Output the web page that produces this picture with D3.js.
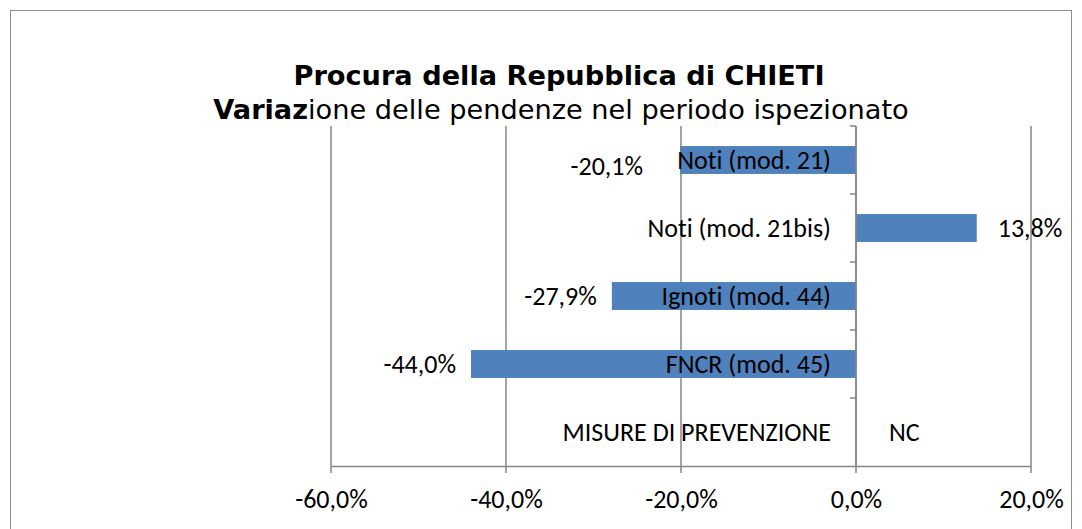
<!DOCTYPE html>
<html>
<head>
<meta charset="utf-8">
<script src="https://cdn.jsdelivr.net/npm/d3@7"></script>
<style>
  body { margin: 0; background: #fff; }
  svg { display: block; }
  text { font-variant-ligatures: none; font-feature-settings: "liga" 0, "clig" 0; }
</style>
</head>
<body>
<svg id="chart" width="1082" height="529"></svg>
<script>
// Variazione delle pendenze — Procura della Repubblica di CHIETI

const categories = ['Noti (mod. 21)', 'Noti (mod. 21bis)', 'Ignoti (mod. 44)', 'FNCR (mod. 45)', 'MISURE DI PREVENZIONE'];
const values     = [-20.1, 13.8, -27.9, -44.0, null];   // null = NC
const valueLabels = ['-20,1%', '13,8%', '-27,9%', '-44,0%', 'NC'];
const xTicks      = [-60, -40, -20, 0, 20];
const xTickLabels = ['-60,0%', '-40,0%', '-20,0%', '0,0%', '20,0%'];

const W = 1082, H = 529;
const M = { left: 331, right: 1031, top: 126, bottom: 466 };
const LABEL_FONT = "Carlito, 'Liberation Sans Narrow', 'Open Sans', sans-serif";
const TITLE_FONT = "'DejaVu Sans', Verdana, sans-serif";
const LABEL_SIZE = 26;
const GRID = '#868686';
const BAR  = '#4f81bd';

const svg = d3.select('#chart');

// ── Frame ──────────────────────────────────────────────────────────────────
svg.append('rect')
  .attr('x', 10.5).attr('y', 10.5)
  .attr('width', W - 21).attr('height', H)
  .attr('fill', '#fff').attr('stroke', '#8c8c8c').attr('stroke-width', 1);

// ── Title ──────────────────────────────────────────────────────────────────
const title = svg.append('text')
  .attr('font-family', TITLE_FONT).attr('font-size', 27.2)
  .attr('text-anchor', 'middle').attr('fill', '#000');
title.append('tspan').attr('x', 559).attr('y', 85).attr('font-weight', 'bold')
  .text('Procura della Repubblica di CHIETI');
const sub = title.append('tspan').attr('x', 561).attr('y', 119);
sub.append('tspan').attr('font-weight', 'bold').text('Variaz');
sub.append('tspan').text('ione delle pendenze nel periodo ispezionato');

// ── Scales ─────────────────────────────────────────────────────────────────
const x = d3.scaleLinear().domain([-60, 20]).range([M.left, M.right]);
const band = d3.scaleBand().domain(categories).range([M.top, M.bottom]);
const y = d3.scaleBand().domain(categories).range([M.top, M.bottom]).paddingInner(0.59).paddingOuter(0.295);

const g = svg.append('g');

// gridlines + ticks below the axis
g.selectAll('line.grid')
  .data(xTicks)
  .enter().append('line')
  .attr('class', 'grid')
  .attr('x1', d => x(d)).attr('x2', d => x(d))
  .attr('y1', M.top).attr('y2', M.bottom + 7)
  .attr('stroke', GRID).attr('stroke-width', 1.5);

// horizontal value axis
const xAxis = d3.axisBottom(x).tickValues(xTicks)
  .tickFormat((d, i) => xTickLabels[i]).tickSize(0).tickPadding(24);
const ax = g.append('g').attr('transform', `translate(0,${M.bottom})`).call(xAxis);
ax.select('.domain').attr('stroke', GRID).attr('stroke-width', 1.5);
ax.selectAll('text').attr('font-family', LABEL_FONT).attr('font-size', LABEL_SIZE).attr('fill', '#000');

// bars
g.selectAll('rect.bar')
  .data(categories.map((c, i) => ({ c, v: values[i] })).filter(d => d.v != null))
  .enter().append('rect')
  .attr('class', 'bar')
  .attr('x', d => x(Math.min(0, d.v)))
  .attr('width', d => Math.abs(x(d.v) - x(0)))
  .attr('y', d => y(d.c))
  .attr('height', y.bandwidth())
  .attr('fill', BAR);

// category axis at 0
g.append('line')
  .attr('x1', x(0)).attr('x2', x(0)).attr('y1', M.top).attr('y2', M.bottom)
  .attr('stroke', GRID).attr('stroke-width', 1.5);
g.selectAll('line.cattick')
  .data(categories)
  .enter().append('line')
  .attr('class', 'cattick')
  .attr('x1', x(0) - 6).attr('x2', x(0))
  .attr('y1', d => band(d)).attr('y2', d => band(d))
  .attr('stroke', GRID).attr('stroke-width', 1.5);

// category labels
g.selectAll('text.cat')
  .data(categories)
  .enter().append('text')
  .attr('class', 'cat')
  .attr('x', x(0) - 25)
  .attr('y', d => band(d) + band.bandwidth() / 2)
  .attr('dy', '0.35em')
  .attr('text-anchor', 'end')
  .attr('font-family', LABEL_FONT).attr('font-size', LABEL_SIZE).attr('fill', '#000')
  .text(d => d);

// value labels
g.selectAll('text.val')
  .data(categories.map((c, i) => ({ c, v: values[i], label: valueLabels[i], i })))
  .enter().append('text')
  .attr('class', 'val')
  .attr('x', d => {
    if (d.v == null) return x(0) + 33;
    if (d.v < 0) return x(d.v) - (d.i === 0 ? 37 : 15);
    return x(d.v) + 21;
  })
  .attr('y', d => band(d.c) + band.bandwidth() / 2 + (d.i === 0 ? 6 : 0))
  .attr('dy', '0.35em')
  .attr('text-anchor', d => (d.v != null && d.v < 0) ? 'end' : 'start')
  .attr('font-family', LABEL_FONT).attr('font-size', LABEL_SIZE).attr('fill', '#000')
  .text(d => d.label);
</script>
</body>
</html>
